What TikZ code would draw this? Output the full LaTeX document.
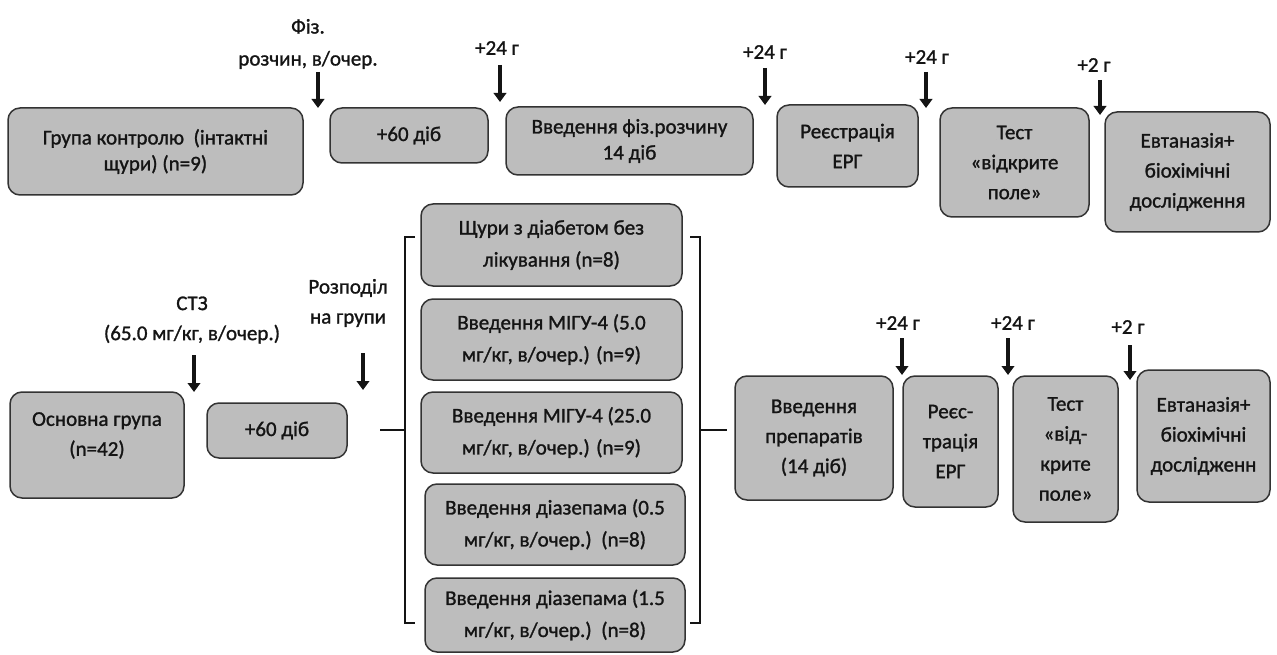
\documentclass[tikz,border=0pt]{standalone}
\usepackage{fontspec}
\setmainfont{Carlito}[FakeBold=1.2]
\usetikzlibrary{arrows.meta}
\definecolor{boxfill}{HTML}{BDBDBD}
\definecolor{boxline}{HTML}{333333}
\definecolor{ink}{HTML}{141414}
\begin{document}
\begin{tikzpicture}[x=1pt,y=-1pt,
  font=\fontsize{21}{30}\selectfont,
  bx/.style={draw=boxline, fill=boxfill, line width=1.5pt, rounded corners=12pt, align=center, text=ink, inner sep=2pt},
  ann/.style={align=center, text=ink, inner sep=0pt},
  darr/.style={line width=3.8pt, draw=black!92, -{Triangle[length=9pt,width=12.5pt]}},
  brk/.style={line width=2.8pt, draw=black!92},
  tight/.style={font=\fontsize{21}{26}\selectfont},
  gbox/.style={bx, font=\fontsize{21}{32}\selectfont},
]
\useasboundingbox (0,0) rectangle (1277,655);

% ---------- top row ----------
\node[bx, tight, minimum width=295pt, minimum height=87pt] (c1) at (155.5,151.5) {Група контролю\ \ (інтактні\\щури) (n=9)};
\node[bx, minimum width=158pt, minimum height=55pt] (c2) at (409,135.5) {+60 діб};
\node[bx, tight, minimum width=247pt, minimum height=68pt] (c3) at (629.5,141) {Введення фіз.розчину\\14 діб};
\node[bx, minimum width=141pt, minimum height=82pt] (c4) at (847.5,146) {Реєстрація\\ЕРГ};
\node[bx, minimum width=149pt, minimum height=109pt] (c5) at (1014.5,162.5) {Тест\\«відкрите\\поле»};
\node[bx, minimum width=165pt, minimum height=120pt] (c6) at (1187.5,172) {Евтаназія+\\біохімічні\\дослідження};

\node[ann, font=\fontsize{21}{32}\selectfont] (t1) at (308,44) {Фіз.\\розчин, в/очер.};
\node[ann] (t2) at (497,48) {+24 г};
\node[ann] (t3) at (765,52) {+24 г};
\node[ann] (t4) at (927,57) {+24 г};
\node[ann] (t5) at (1094,65) {+2 г};

\coordinate (a1s) at (318,72);  \coordinate (a1e) at (318,108);
\coordinate (a2s) at (500,65);  \coordinate (a2e) at (500,102);
\coordinate (a3s) at (765,68);  \coordinate (a3e) at (765,105);
\coordinate (a4s) at (926,72);  \coordinate (a4e) at (926,108);
\coordinate (a5s) at (1100,80); \coordinate (a5e) at (1100,115);
\foreach \i in {1,...,5} \draw[darr] (a\i s) -- (a\i e);

% ---------- bottom row ----------
\node[bx, minimum width=174pt, minimum height=106pt] (m1) at (97,445) {Основна група\\(n=42)\\[-8pt]\mbox{}};
\node[bx, minimum width=140pt, minimum height=55pt] (m2) at (277,430.5) {+60 діб};

\node[ann] (s1) at (192,320) {СТЗ\\(65.0 мг/кг, в/очер.)};
\node[ann] (s2) at (348,303) {Розподіл\\на групи};

\coordinate (b1s) at (194,355); \coordinate (b1e) at (194,392);
\coordinate (b2s) at (363,353); \coordinate (b2e) at (363,390);
\draw[darr] (b1s) -- (b1e);
\draw[darr] (b2s) -- (b2e);

% groups
\node[gbox, minimum width=261pt, minimum height=82pt] (g1) at (551.5,245) {Щури з діабетом без\\лікування (n=8)};
\node[gbox, minimum width=261pt, minimum height=81pt] (g2) at (551.5,339.5) {Введення МІГУ-4 (5.0\\мг/кг, в/очер.) (n=9)};
\node[gbox, minimum width=261pt, minimum height=81pt] (g3) at (551.5,432.5) {Введення МІГУ-4 (25.0\\мг/кг, в/очер.) (n=9)};
\node[gbox, minimum width=260pt, minimum height=81pt] (g4) at (555,524.5) {Введення діазепама (0.5\\мг/кг, в/очер.)\ \ (n=8)};
\node[gbox, minimum width=260pt, minimum height=74pt] (g5) at (555,615) {Введення діазепама (1.5\\мг/кг, в/очер.)\ \ (n=8)};

% brackets
\coordinate (jl) at (380,430);
\coordinate (bl) at (405,430);
\coordinate (br) at (700,430);
\coordinate (jr) at (727,430);
\draw[brk] (415,237) -- (405,237) -- (405,623) -- (415,623);
\draw[brk] (690,237) -- (700,237) -- (700,623) -- (690,623);
\draw[brk] (jl) -- (bl);
\draw[brk] (br) -- (jr);

% right part
\node[bx, minimum width=158pt, minimum height=124pt] (p1) at (814,438) {Введення\\препаратів\\(14 діб)};
\node[bx, minimum width=95pt, minimum height=131pt] (p2) at (950.5,441.5) {Реєс-\\трація\\ЕРГ};
\node[bx, minimum width=105pt, minimum height=146pt] (p3) at (1065.5,449) {Тест\\«від-\\крите\\поле»};
\node[bx, minimum width=133pt, minimum height=132pt] (p4) at (1203.5,436) {Евтаназія+\\біохімічні\\дослідженн};

\node[ann] (u1) at (898,323) {+24 г};
\node[ann] (u2) at (1013,323) {+24 г};
\node[ann] (u3) at (1128,327) {+2 г};
\coordinate (d1s) at (902,338);  \coordinate (d1e) at (902,375);
\coordinate (d2s) at (1008,338); \coordinate (d2e) at (1008,375);
\coordinate (d3s) at (1130,345); \coordinate (d3e) at (1130,380);
\foreach \i in {1,2,3} \draw[darr] (d\i s) -- (d\i e);
\end{tikzpicture}
\end{document}
